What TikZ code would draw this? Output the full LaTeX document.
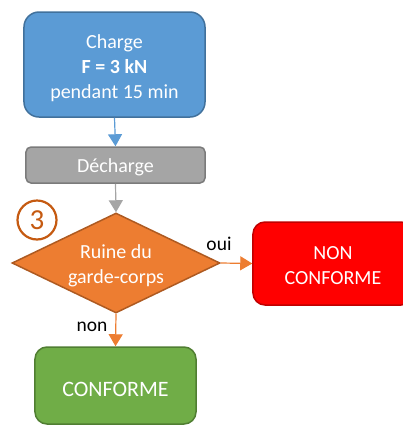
\documentclass[tikz,border=0pt]{standalone}
\usepackage{fontspec}
\setmainfont{Carlito}
\usetikzlibrary{shapes.geometric,arrows.meta}
\definecolor{bfill}{HTML}{5B9BD5}\definecolor{bdraw}{HTML}{41719C}
\definecolor{gfill}{HTML}{A5A5A5}\definecolor{gdraw}{HTML}{7B7B7B}
\definecolor{ofill}{HTML}{ED7D31}\definecolor{odraw}{HTML}{AE5A21}
\definecolor{rfill}{HTML}{FF0000}\definecolor{rdraw}{HTML}{C00000}
\definecolor{vfill}{HTML}{70AD47}\definecolor{vdraw}{HTML}{507E32}
\definecolor{cdraw}{HTML}{C55A11}
\tikzset{
  box/.style={rectangle, rounded corners=#1, line width=1.5bp, inner sep=0pt},
  txt/.style={inner sep=0pt, align=center, text=white, font=\fontsize{20bp}{25bp}\selectfont},
  conn/.style={line width=1.2bp, -{Triangle[length=12bp,width=14bp]}},
  lbl/.style={font=\fontsize{19.5bp}{24bp}\selectfont, text=black, inner sep=0pt}
}
\begin{document}
\begin{tikzpicture}[x=1bp,y=-1bp]
\useasboundingbox (0,0) rectangle (403,425);
\clip (0,0) rectangle (403,425);
\node[box=15bp, fill=bfill, draw=bdraw, minimum width=181bp, minimum height=105bp] (charge) at (114.5,64.5) {};
\node[txt] (chargeT) at ([yshift=-3.5bp]charge.center) {Charge\\\textbf{F = 3 kN}\\pendant 15 min};
\node[box=5bp, fill=gfill, draw=gdraw, minimum width=179bp, minimum height=36bp] (dech) at (115.5,165) {};
\node[txt] (dechT) at ([yshift=-2.5bp]dech.center) {Décharge};
\node[diamond, shape aspect=2.08, fill=ofill, draw=odraw, line width=1.5bp, inner sep=0pt,
  minimum width=208bp, minimum height=100bp] (ruine) at (116,263) {};
\node[txt] (ruineT) at ([yshift=-2.5bp]ruine.center) {Ruine du\\garde-corps};
\node[box=12bp, fill=rfill, draw=rdraw, minimum width=160bp, minimum height=83bp] (nc) at (333,263.5) {};
\node[txt] (ncT) at ([yshift=-2.5bp]nc.center) {NON\\CONFORME};
\node[box=12bp, fill=vfill, draw=vdraw, minimum width=161bp, minimum height=77bp] (c) at (115.5,385.5) {};
\node[txt, font=\fontsize{22bp}{26bp}\selectfont] (cT) at ([yshift=-4bp]c.center) {CONFORME};
\node[circle, draw=cdraw, line width=2.2bp, fill=white, minimum size=39bp, inner sep=0pt, text=cdraw,
  font=\fontsize{29bp}{30bp}\selectfont] (num) at (37,220) {3};
\draw[conn, draw=bfill] (charge.south) -- (dech.north);
\draw[conn, draw=gfill] (dech.south) -- (ruine.north);
\draw[conn, draw=ofill] (ruine.east) -- (nc.west);
\draw[conn, draw=ofill] (ruine.south) -- (c.north);
\node[lbl] (oui) at (219,244) {oui};
\node[lbl] (non) at (92,327) {non};
\end{tikzpicture}
\end{document}
